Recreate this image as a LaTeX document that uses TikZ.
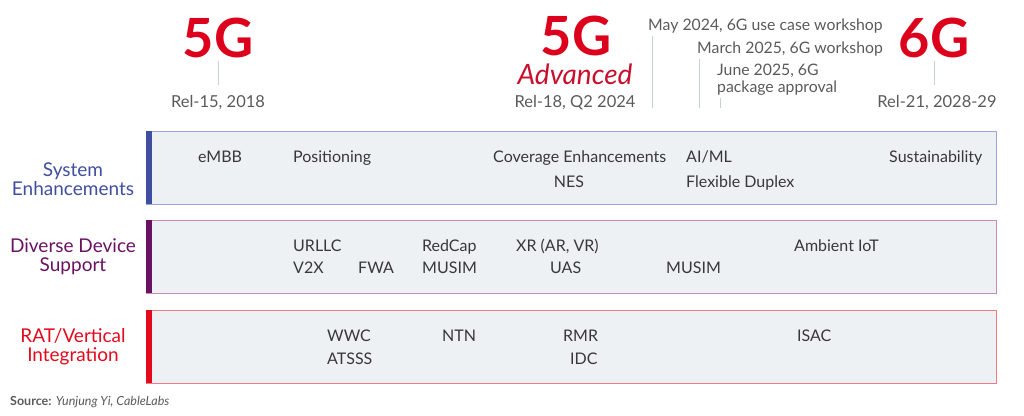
\documentclass[tikz,border=0pt]{standalone}
\usepackage{fontspec}
\setmainfont{Lato}
\definecolor{gred}{HTML}{DC001C}
\definecolor{advred}{HTML}{C8102E}
\definecolor{relgray}{HTML}{5A5A5A}
\definecolor{itemgray}{HTML}{383838}
\definecolor{tickgray}{HTML}{C5D0DA}
\definecolor{boxfill}{HTML}{EDF1F4}
\definecolor{seblue}{HTML}{3F4E9E}
\definecolor{seline}{HTML}{9DA3D6}
\definecolor{ddpurple}{HTML}{6A1262}
\definecolor{ddline}{HTML}{C68CBC}
\definecolor{rvred}{HTML}{E20A1C}
\definecolor{rvline}{HTML}{F07A85}

\begin{document}
\begin{tikzpicture}[x=1pt, y=-1pt, inner sep=0pt,
    gen/.style = {font=\fontsize{54}{54}\selectfont\bfseries, text=gred, anchor=base},
    rel/.style = {font=\fontsize{16.5}{18}\selectfont, text=relgray, anchor=base},
    mile/.style = {font=\fontsize{15.8}{18}\selectfont, text=relgray, anchor=base west},
    tick/.style = {draw=tickgray, line width=1pt},
    item/.style = {font=\fontsize{16}{18}\selectfont, text=itemgray, anchor=base west},
    lane/.style = {fill=boxfill, line width=1pt, minimum width=850pt, minimum height=73pt},
    cat/.style = {font=\fontsize{19}{19}\selectfont, align=center}]
    \useasboundingbox (0,0) rectangle (1024,415);

    % header
    \node[gen] (g1) at (218,57) {5G};
    \node[rel] (r1) at (218,107) {Rel-15, 2018};
    \node[gen] (g2) at (576,55) {5G};
    \node[font=\fontsize{28}{28}\selectfont\itshape, text=advred, anchor=base] (adv) at (575,84) {Advanced};
    \node[rel] (r2) at (575,107) {Rel-18, Q2 2024};
    \node[gen] (g3) at (934,57) {6G};
    \node[rel] (r3) at (937,107) {Rel-21, 2028-29};
    \draw[tick] (g1.south) ++(0,3) -- ++(0,24);
    \draw[tick] (g3.south) ++(0,3) -- ++(0,24);

    \node[mile] (m1) at (648,30) {May 2024, 6G use case workshop};
    \node[mile] (m2) at (697,53) {March 2025, 6G workshop};
    \node[mile] (m3) at (717,75) {June 2025, 6G};
    \node[mile] (m3b) at (717,92) {package approval};
    \coordinate (e1) at (652,108);
    \coordinate (e2) at (699,108);
    \coordinate (e3) at (720,108);
    \draw[tick, shorten <=3pt] (e1 |- m1.south) -- (e1);
    \draw[tick, shorten <=3pt] (e2 |- m2.south) -- (e2);
    \draw[tick, shorten <=3pt] (e3 |- m3b.south) -- (e3);

    % lanes
    \node[lane, draw=seline] (l1) at (571,167.5) {};
    \node[lane, draw=ddline] (l2) at (571,257) {};
    \node[lane, draw=rvline] (l3) at (571,346.5) {};
    \fill[seblue] (l1.north west) rectangle ++(6,73);
    \fill[ddpurple] (l2.north west) rectangle ++(6,73);
    \fill[rvred] (l3.north west) rectangle ++(6,73);

    \node[cat, text=seblue] (c1) at (73,179) {System\\Enhancements};
    \node[cat, text=ddpurple] (c2) at (73,257) {Diverse Device\\Support};
    \node[cat, text=rvred] (c3) at (73,347) {RAT/Vertical\\Integration};

    \node[item] (embb) at (198,162) {eMBB};
    \node[item] (pos) at (293,162) {Positioning};
    \node[item] (cov) at (493,162) {Coverage Enhancements};
    \node[item] (aiml) at (686,162) {AI/ML};
    \node[item] (sust) at (889,162) {Sustainability};
    \node[item, anchor=base] (nes) at (569,187) {NES};
    \node[item] (fd) at (686,187) {Flexible Duplex};

    \node[item] (urllc) at (293,251) {URLLC};
    \node[item] (redcap) at (422,251) {RedCap};
    \node[item] (xr) at (516,251) {XR (AR, VR)};
    \node[item] (amb) at (794,251) {Ambient IoT};
    \node[item] (v2x) at (293,273) {V2X};
    \node[item] (fwa) at (358,273) {FWA};
    \node[item] (mus1) at (422,273) {MUSIM};
    \node[item] (uas) at (550,273) {UAS};
    \node[item] (mus2) at (666,273) {MUSIM};

    \node[item] (wwc) at (327,341) {WWC};
    \node[item] (ntn) at (442,341) {NTN};
    \node[item] (rmr) at (563,341) {RMR};
    \node[item] (isac) at (797,341) {ISAC};
    \node[item] (atsss) at (327,364) {ATSSS};
    \node[item] (idc) at (570,364) {IDC};

    \node[font=\fontsize{12.5}{13}\selectfont, text=relgray, anchor=base west] (src) at (10,405)
        {\textbf{Source:} \textit{Yunjung Yi, CableLabs}};
\end{tikzpicture}
\end{document}
